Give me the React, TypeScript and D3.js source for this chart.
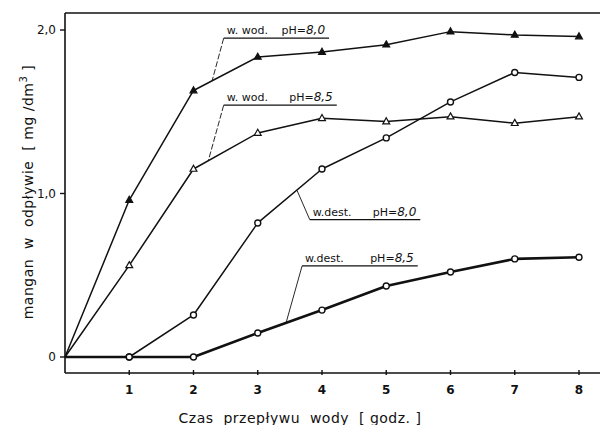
import React from 'react';
import * as d3 from 'd3';

const hours = [0, 1, 2, 3, 4, 5, 6, 7, 8];
const wodPh80 = [0, 0.96, 1.63, 1.835, 1.865, 1.91, 1.99, 1.97, 1.96];
const wodPh85 = [0, 0.56, 1.15, 1.37, 1.46, 1.44, 1.47, 1.43, 1.47];
const destPh80 = [0, 0, 0.257, 0.82, 1.15, 1.34, 1.56, 1.74, 1.71];
const destPh85 = [0, 0, 0, 0.147, 0.287, 0.434, 0.52, 0.6, 0.61];

const xTicks = [1, 2, 3, 4, 5, 6, 7, 8];
const yTicks = [0, 1, 2];
const yTickLabels = ['0', '1,0', '2,0'];

const seriesNames = ['w. wod.', 'w. wod.', 'w.dest.', 'w.dest.'];
const seriesPh = ['8,0', '8,5', '8,0', '8,5'];

// label placement in data units: underline from x0..x1 at y, leader to (px, py)
const notes = [
  { x0: 2.47, x1: 4.11, y: 1.95, px: 2.29, py: 1.69 },
  { x0: 2.47, x1: 4.23, y: 1.54, px: 2.23, py: 1.2 },
  { x0: 3.81, x1: 5.53, y: 0.84, px: 3.61, py: 1.02 },
  { x0: 3.69, x1: 5.49, y: 0.557, px: 3.44, py: 0.208 },
];

const W = 604;
const H = 425;
const font = '"DejaVu Sans", "Liberation Sans", sans-serif';

export default function App() {
  const x = d3.scaleLinear().domain([0, 8]).range([65, 579]);
  const y = d3.scaleLinear().domain([0, 2]).range([357, 30]);
  const line = d3.line<number>().x((_, i) => x(hours[i])).y(d => y(d));

  const series = [
    { vals: wodPh80, marker: 'triFill', w: 1.5 },
    { vals: wodPh85, marker: 'triOpen', w: 1.5 },
    { vals: destPh80, marker: 'circle', w: 1.5 },
    { vals: destPh85, marker: 'circle', w: 2.6 },
  ];

  const tri = (cx: number, cy: number, s: number) =>
    `M${cx},${cy - s} L${cx + s * 0.9},${cy + s * 0.6} L${cx - s * 0.9},${cy + s * 0.6} Z`;

  const top = 13;
  const bottom = 373;
  const right = 600;

  return (
    <svg width={W} height={H} style={{ position: 'absolute', left: 0, top: 0, background: '#fff' }}>
      <rect width={W} height={H} fill="#fff" />
      {/* frame */}
      <g stroke="#111" strokeWidth={1.6} fill="none">
        <line x1={x(0)} x2={x(0)} y1={top} y2={bottom} />
        <line x1={x(0)} x2={right} y1={top} y2={top} />
        <line x1={x(0)} x2={right} y1={bottom} y2={bottom} />
      </g>
      {/* y ticks */}
      {yTicks.map((t, i) => (
        <g key={'y' + t}>
          <line x1={x(0) - 5} x2={x(0)} y1={y(t)} y2={y(t)} stroke="#111" strokeWidth={1.4} />
          <text x={x(0) - 9} y={y(t)} dy="0.35em" textAnchor="end" fontSize={12} fontFamily={font} fill="#111">
            {yTickLabels[i]}
          </text>
        </g>
      ))}
      {/* x ticks */}
      {xTicks.map(t => (
        <g key={'x' + t}>
          <line x1={x(t)} x2={x(t)} y1={bottom - 3} y2={bottom + 2} stroke="#111" strokeWidth={1.4} />
          <text x={x(t)} y={bottom + 21} textAnchor="middle" fontSize={12} fontWeight="bold" fontFamily={font} fill="#111">
            {t}
          </text>
        </g>
      ))}
      {/* series */}
      {series.map((s, si) => (
        <g key={'s' + si}>
          <path d={line(s.vals) || ''} fill="none" stroke="#111" strokeWidth={s.w} strokeLinejoin="round" />
          {s.vals.map((v, i) => {
            if (i === 0) return null;
            const cx = x(hours[i]);
            const cy = y(v);
            if (s.marker === 'circle')
              return <circle key={i} cx={cx} cy={cy} r={3} fill="#fff" stroke="#111" strokeWidth={1.4} />;
            return (
              <path
                key={i}
                d={tri(cx, cy, 3.8)}
                fill={s.marker === 'triFill' ? '#111' : '#fff'}
                stroke="#111"
                strokeWidth={1.2}
              />
            );
          })}
        </g>
      ))}
      {/* annotations */}
      {notes.map((n, i) => (
        <g key={'n' + i} fontFamily={font} fontSize={11} fill="#111">
          <line x1={x(n.x0)} x2={x(n.x1)} y1={y(n.y)} y2={y(n.y)} stroke="#111" strokeWidth={1.2} />
          <line x1={x(n.x0)} x2={x(n.px)} y1={y(n.y)} y2={y(n.py)} stroke="#111" strokeWidth={0.9}
            strokeDasharray={i < 2 ? '6,2' : undefined} />
          <text x={x(n.x0) + 3} y={y(n.y) - 4}>{seriesNames[i]}</text>
          <text x={x(n.x1) - 4} y={y(n.y) - 4} textAnchor="end">
            pH=<tspan fontStyle="italic" fontSize={12}>{seriesPh[i]}</tspan>
          </text>
        </g>
      ))}
      {/* axis titles */}
      <text x={300} y={418} dy="0.35em" textAnchor="middle" fontSize={14} fontFamily={font} fill="#111"
        style={{ whiteSpace: 'pre' }} letterSpacing={0.5}>
        {'Czas  przepływu  wody  [ godz. ]'}
      </text>
      <text transform="translate(28,192) rotate(-90)" dy="0.35em" textAnchor="middle" fontSize={14}
        fontFamily={font} fill="#111" style={{ whiteSpace: 'pre' }} letterSpacing={0.5}>
        mangan  w  odpływie  [ mg /dm<tspan dy={-6} fontSize={10}>3</tspan><tspan dy={6}> ]</tspan>
      </text>
    </svg>
  );
}
